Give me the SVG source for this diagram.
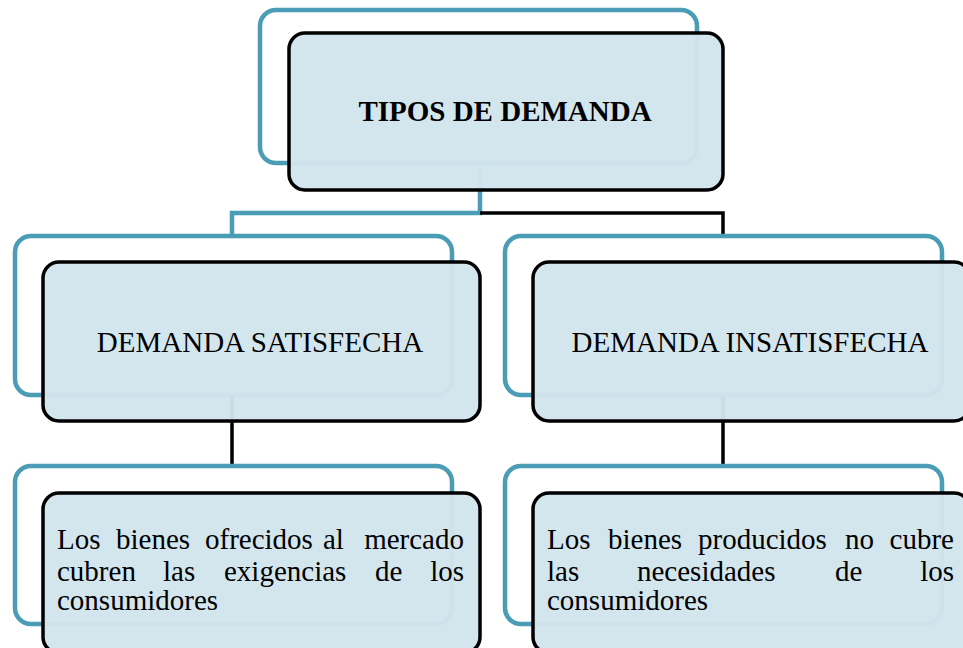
<svg xmlns="http://www.w3.org/2000/svg" width="963" height="648" viewBox="0 0 963 648">
<style>
.back{fill:none;stroke:#4a9db5;stroke-width:4.5}
.front{fill:#d2e5ec;fill-opacity:0.96;stroke:#000;stroke-width:3.5}
.t{font-family:"Liberation Serif","Times New Roman",serif;font-size:29px;fill:#000}
.c{text-anchor:middle}
.tc{fill:none;stroke:#4a9db5;stroke-width:4.5}
.bc{fill:none;stroke:#000;stroke-width:3.5}
</style>
<rect width="963" height="648" fill="#fff"/>
<g id="connectors">
<path class="tc" d="M480,163 V213 H232 V236"/>
<path class="bc" d="M480,213 H723 V236"/>
<path class="bc" d="M232,396 V466"/>
<path class="bc" d="M723,396 V466"/>
</g>
<g id="tipos">
<rect class="back" x="260" y="10" width="437" height="153" rx="16"/>
<rect class="front" x="289" y="33" width="434" height="157" rx="16"/>
<text class="t c" x="505" y="121" font-weight="bold" font-size="30">TIPOS DE DEMANDA</text>
</g>
<g id="satisfecha">
<rect class="back" x="15" y="236" width="437" height="159" rx="16"/>
<rect class="front" x="43" y="262" width="437" height="159" rx="16"/>
<text class="t c" x="260" y="352" font-size="31">DEMANDA SATISFECHA</text>
</g>
<g id="insatisfecha">
<rect class="back" x="505" y="236" width="437" height="159" rx="16"/>
<rect class="front" x="533" y="262" width="437" height="159" rx="16"/>
<text class="t c" x="750" y="352" font-size="31">DEMANDA INSATISFECHA</text>
</g>
<g id="desc-satisfecha">
<rect class="back" x="15" y="466" width="437" height="158" rx="16"/>
<rect class="front" x="43" y="493" width="437" height="160" rx="16"/>
<text class="t"><tspan x="57" y="549">Los</tspan><tspan x="116" y="549">bienes</tspan><tspan x="205" y="549">ofrecidos</tspan><tspan x="323" y="549">al</tspan><tspan x="464" y="549" text-anchor="end">mercado</tspan></text>
<text class="t"><tspan x="57" y="581">cubren</tspan><tspan x="163" y="581">las</tspan><tspan x="224" y="581">exigencias</tspan><tspan x="375" y="581">de</tspan><tspan x="464" y="581" text-anchor="end">los</tspan></text>
<text class="t" x="57" y="610">consumidores</text>
</g>
<g id="desc-insatisfecha">
<rect class="back" x="505" y="466" width="437" height="158" rx="16"/>
<rect class="front" x="533" y="493" width="437" height="160" rx="16"/>
<text class="t"><tspan x="547" y="549">Los</tspan><tspan x="608" y="549">bienes</tspan><tspan x="698" y="549">producidos</tspan><tspan x="845" y="549">no</tspan><tspan x="954" y="549" text-anchor="end">cubre</tspan></text>
<text class="t"><tspan x="547" y="581">las</tspan><tspan x="637" y="581">necesidades</tspan><tspan x="835" y="581">de</tspan><tspan x="954" y="581" text-anchor="end">los</tspan></text>
<text class="t" x="547" y="610">consumidores</text>
</g>
</svg>
